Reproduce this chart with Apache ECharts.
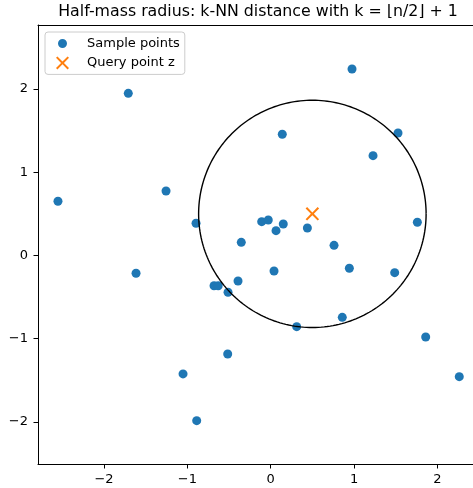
<!DOCTYPE html>
<html><head><meta charset="utf-8">
<script src="https://cdn.jsdelivr.net/npm/echarts@6/dist/echarts.min.js"></script>
<style>html,body{margin:0;padding:0;background:#fff}#c{width:473px;height:488px}</style>
</head><body><div id="c"></div>
<script>
// Sample points
const sampleX = [-2.553, -1.709, -1.256, -0.896, -1.616, -0.680, -0.630, -0.512, -0.392, -0.353,
                 -0.108, -0.029, 0.064, 0.151, 0.440, 0.760, 0.040, 0.944, 1.488, 1.760,
                 0.139, 1.228, 1.528, 0.976, 0.312, 0.859, 1.860, 2.263, -0.516, -1.052, -0.888];
const sampleY = [0.652, 1.948, 0.775, 0.387, -0.214, -0.363, -0.363, -0.442, -0.306, 0.158,
                 0.406, 0.426, 0.298, 0.378, 0.330, 0.122, -0.186, -0.154, -0.206, 0.399,
                 1.456, 1.199, 1.471, 2.240, -0.855, -0.743, -0.979, -1.456, -1.183, -1.423, -1.984];
// Query point and half-mass radius
const queryX = [0.5];
const queryY = [0.5];
const radius = [1.365];
// Ticks
const xTicks = [-2, -1, 0, 1, 2];
const yTicks = [-2, -1, 0, 1, 2];
const xTickLabels = ['\u22122', '\u22121', '0', '1', '2'];
const yTickLabels = ['\u22122', '\u22121', '0', '1', '2'];
const xRange = [-2.7925, 2.4277];
const yRange = [-2.505, 2.769];

const FONT = 'DejaVu Sans';
const xPath = 'path://M0,11L11,0L50,39L89,0L100,11L61,50L100,89L89,100L50,61L11,100L0,89L39,50Z';
// circle of diameter ~0.69 of the icon box (invisible corner moves keep the box size)
const dotIcon = 'path://M0,0M100,100M15.4,50A34.6,34.6,0,1,1,84.6,50A34.6,34.6,0,1,1,15.4,50Z';

const chart = echarts.init(document.getElementById('c'), null, {renderer: 'canvas'});
const axisCommon = {
  type: 'value',
  splitLine: {show: false},
  axisLine: {show: true, onZero: false, lineStyle: {color: '#000', width: 1}},
  axisTick: {show: true, inside: false, length: 4.5, lineStyle: {color: '#000', width: 1}},
};
chart.setOption({
  animation: false,
  backgroundColor: '#fff',
  title: {
    text: 'Half-mass radius: k-NN distance with k = \u230An/2\u230B + 1',
    left: 258, top: 4, padding: 0, textAlign: 'center',
    textStyle: {fontFamily: FONT, fontSize: 15.8, fontWeight: 'normal', color: '#000'}
  },
  grid: {left: 38, top: 25, right: 0, bottom: 24, show: false},
  legend: {
    data: [{name: 'Sample points', icon: dotIcon}, {name: 'Query point z', icon: xPath}],
    orient: 'vertical', left: 45, top: 32,
    padding: [5, 5, 5, 11], itemWidth: 13, itemHeight: 13, itemGap: 6.4,
    borderColor: '#cccccc', borderWidth: 1, borderRadius: 3,
    backgroundColor: 'rgba(255,255,255,0.8)',
    textStyle: {fontFamily: FONT, fontSize: 13, color: '#000', padding: [0, 0, 0, 13]}
  },
  xAxis: [
    Object.assign({}, axisCommon, {
      min: xRange[0], max: xRange[1], position: 'bottom',
      axisTick: Object.assign({}, axisCommon.axisTick, {customValues: xTicks}),
      axisLabel: {customValues: xTicks, margin: 9, fontFamily: FONT, fontSize: 13, color: '#000',
        formatter: v => xTickLabels[xTicks.indexOf(v)]}
    }),
    Object.assign({}, axisCommon, {
      min: xRange[0], max: xRange[1], position: 'top',
      axisTick: {show: false}, axisLabel: {show: false}
    })
  ],
  yAxis: Object.assign({}, axisCommon, {
    min: yRange[0], max: yRange[1],
    axisTick: Object.assign({}, axisCommon.axisTick, {customValues: yTicks}),
    axisLabel: {customValues: yTicks, margin: 10, fontFamily: FONT, fontSize: 13, color: '#000',
      formatter: v => yTickLabels[yTicks.indexOf(v)]}
  }),
  series: [
    {
      name: 'Sample points', type: 'scatter', z: 2,
      symbol: 'circle', symbolSize: 9,
      itemStyle: {color: '#1f77b4', opacity: 1},
      data: sampleX.map((x, i) => [x, sampleY[i]])
    },
    {
      name: 'Query point z', type: 'scatter', z: 3,
      symbol: xPath, symbolSize: 13.5, symbolKeepAspect: true,
      itemStyle: {color: '#ff7f0e', opacity: 1},
      data: queryX.map((x, i) => [x, queryY[i]])
    },
    {
      name: 'radius', type: 'custom', z: 4, silent: true,
      data: queryX.map((x, i) => [x, queryY[i], radius[i]]),
      encode: {x: 0, y: 1},
      renderItem: function (params, api) {
        const cx = api.value(0), cy = api.value(1), r = api.value(2);
        const pts = [];
        for (let i = 0; i <= 240; i++) {
          const a = i / 240 * 2 * Math.PI;
          pts.push(api.coord([cx + r * Math.cos(a), cy + r * Math.sin(a)]));
        }
        return {type: 'polyline', shape: {points: pts}, style: {stroke: '#000', lineWidth: 1.4, fill: null}};
      }
    }
  ]
});
</script>
</body></html>
